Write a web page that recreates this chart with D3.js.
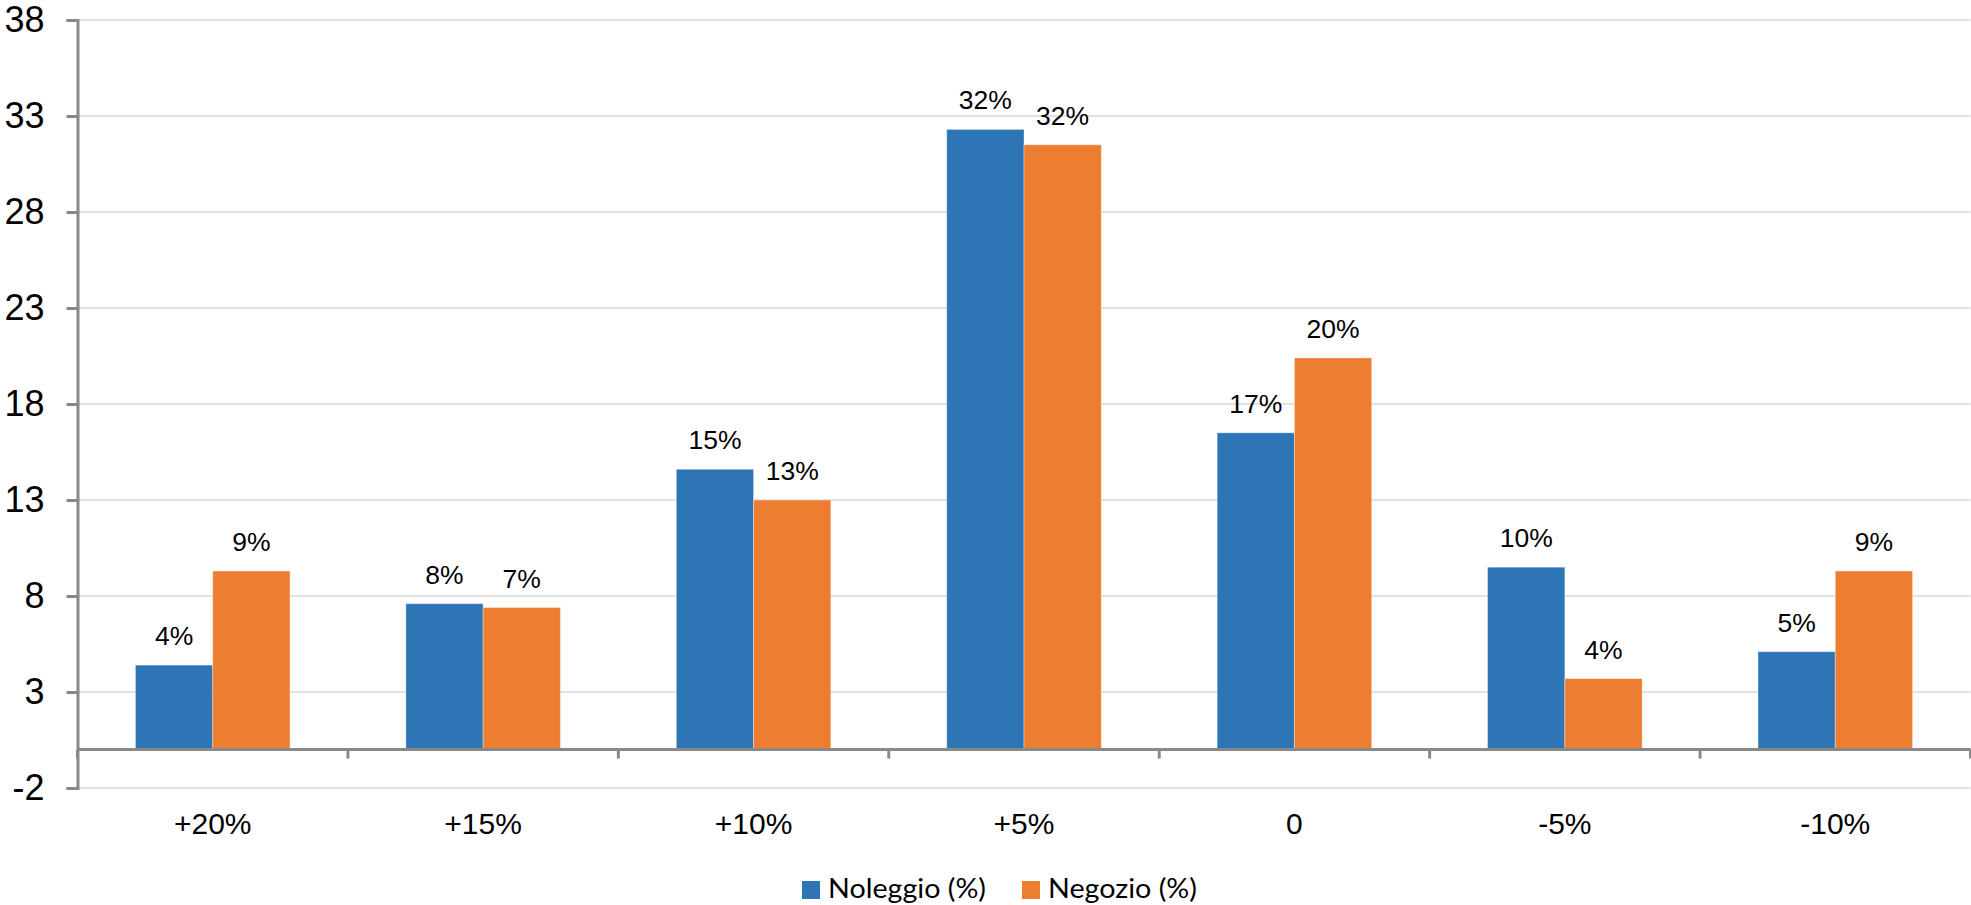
<!DOCTYPE html>
<html>
<head>
<meta charset="utf-8">
<script src="https://cdn.jsdelivr.net/npm/d3@7"></script>
<style>
  html, body { margin: 0; padding: 0; background: #fff; }
  svg { display: block; }
</style>
</head>
<body>
<svg id="chart" width="1971" height="905"></svg>
<script>
// ---- data ----
const categories = ["+20%", "+15%", "+10%", "+5%", "0", "-5%", "-10%"];
const seriesNames = ["Noleggio (%)", "Negozio (%)"];
const noleggio = [4.4, 7.6, 14.6, 32.3, 16.5, 9.5, 5.1];
const negozio  = [9.3, 7.4, 13.0, 31.5, 20.4, 3.7, 9.3];
const noleggioLabels = ["4%", "8%", "15%", "32%", "17%", "10%", "5%"];
const negozioLabels  = ["9%", "7%", "13%", "32%", "20%", "4%", "9%"];
const yTicks = [-2, 3, 8, 13, 18, 23, 28, 33, 38];
const colors = ["#2E75B6", "#ED7D31"];

(function () {
const series = [
  { name: seriesNames[0], values: noleggio, labels: noleggioLabels, color: colors[0] },
  { name: seriesNames[1], values: negozio, labels: negozioLabels, color: colors[1] }
];

// ---- layout ----
const svg = d3.select("#chart");
const plotLeft = 77.5, plotRight = 1970.5, plotTop = 20, plotBottom = 788;

const y = d3.scaleLinear().domain([-2, 38]).range([plotBottom, plotTop]);
const x0 = d3.scaleBand().domain(categories).range([plotLeft, plotRight]).paddingInner(0).paddingOuter(0);
const gap = 1.5; // Excel gap width 150%
const n = series.length;
const x1 = d3.scaleBand().domain(seriesNames)
  .range([x0.bandwidth() * (gap / 2) / (n + gap), x0.bandwidth() * (gap / 2 + n) / (n + gap)])
  .padding(0);

const axisColor = "#898989";
const gridColor = "#d9d9d9";
const fontArial = "'Liberation Sans', Arial, sans-serif";

// gridlines
svg.append("g").selectAll("line").data(yTicks).join("line")
  .attr("x1", plotLeft).attr("x2", plotRight)
  .attr("y1", d => y(d)).attr("y2", d => y(d))
  .attr("stroke", gridColor).attr("stroke-width", 1.5);

// bars
const groups = svg.append("g").selectAll("g").data(series).join("g");
groups.selectAll("rect").data(s => s.values.map((v, i) => ({ v, i, s })))
  .join("rect")
  .attr("x", d => x0(categories[d.i]) + x1(d.s.name))
  .attr("width", x1.bandwidth())
  .attr("y", d => y(d.v))
  .attr("height", d => y(0) - y(d.v))
  .attr("fill", d => d.s.color)
  .attr("stroke", "#ffffff").attr("stroke-opacity", 0.35).attr("stroke-width", 1);

// data labels
groups.selectAll("text").data(s => s.values.map((v, i) => ({ v, i, s })))
  .join("text")
  .attr("x", d => x0(categories[d.i]) + x1(d.s.name) + x1.bandwidth() / 2)
  .attr("y", d => y(d.v) - 20)
  .attr("text-anchor", "middle")
  .attr("font-family", fontArial)
  .attr("font-size", 26.5)
  .attr("fill", "#000")
  .text(d => d.s.labels[d.i]);

// y axis
const yAxis = d3.axisLeft(y).tickValues(yTicks).tickSize(11).tickPadding(22).tickFormat(d => String(d));
const gy = svg.append("g").attr("transform", `translate(${plotLeft},0)`).call(yAxis);
gy.select(".domain").attr("stroke", axisColor).attr("stroke-width", 3);
gy.selectAll(".tick line").attr("stroke", axisColor).attr("stroke-width", 3);
gy.selectAll(".tick text").attr("font-family", fontArial).attr("font-size", 36).attr("fill", "#000");

// x axis at zero
const xAxisLine = svg.append("g");
xAxisLine.append("line")
  .attr("x1", plotLeft).attr("x2", plotRight)
  .attr("y1", y(0)).attr("y2", y(0))
  .attr("stroke", axisColor).attr("stroke-width", 3);
const boundaries = categories.map(c => x0(c)).concat([x0(categories[categories.length - 1]) + x0.bandwidth()]);
xAxisLine.selectAll("line.tk").data(boundaries).join("line")
  .attr("class", "tk")
  .attr("x1", d => d).attr("x2", d => d)
  .attr("y1", y(0)).attr("y2", y(0) + 9)
  .attr("stroke", axisColor).attr("stroke-width", 3);

// category labels
svg.append("g").selectAll("text").data(categories).join("text")
  .attr("x", d => x0(d) + x0.bandwidth() / 2)
  .attr("y", 834)
  .attr("text-anchor", "middle")
  .attr("font-family", fontArial)
  .attr("font-size", 30)
  .attr("fill", "#000")
  .text(d => d);

// legend
const legendX = [802, 1022];
const legendW = [158, 149];
const lg = svg.append("g").selectAll("g").data(series).join("g")
  .attr("transform", (d, i) => `translate(${legendX[i]},0)`);
lg.append("rect").attr("x", 0).attr("y", 881).attr("width", 18).attr("height", 18).attr("fill", d => d.color);
lg.append("text")
  .attr("x", 26).attr("y", 898)
  .attr("font-family", "Lato, 'Open Sans', sans-serif")
  .attr("font-size", 26)
  .attr("fill", "#000")
  .attr("textLength", (d, i) => legendW[i])
  .attr("lengthAdjust", "spacingAndGlyphs")
  .text(d => d.name);
})();
</script>
</body>
</html>
